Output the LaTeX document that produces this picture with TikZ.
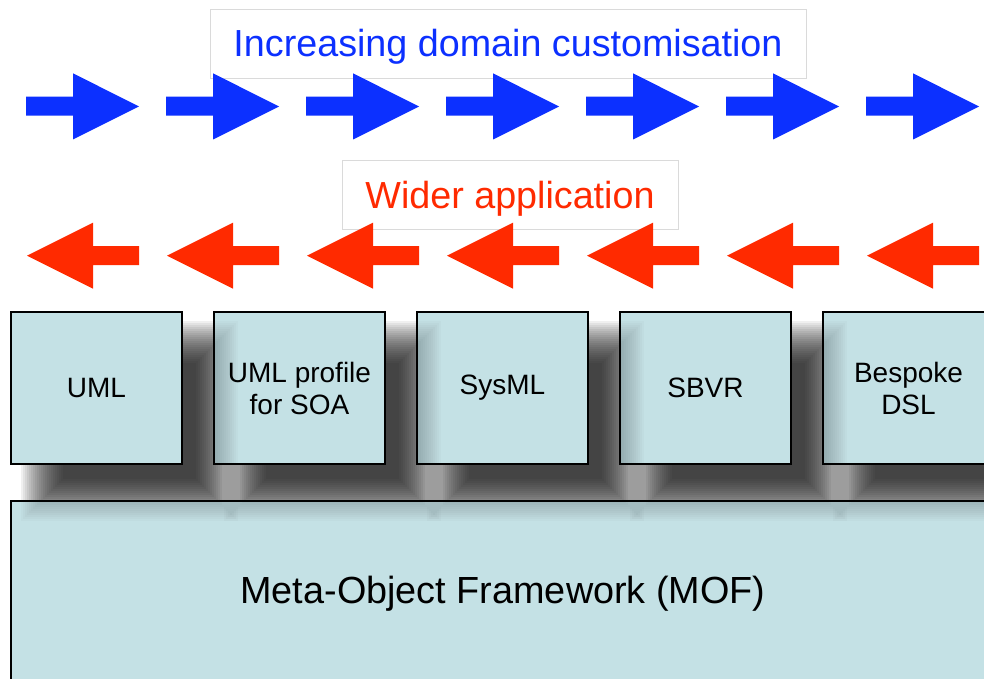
\documentclass[tikz,border=0pt]{standalone}
\usepackage{fontspec}
\setmainfont{Liberation Sans}
\definecolor{boxfill}{RGB}{196,225,229}
\definecolor{arrblue}{RGB}{12,48,255}
\definecolor{arrred}{RGB}{255,42,0}
\definecolor{lblframe}{RGB}{218,218,218}
\newcommand{\softshadow}[5]{%
  \foreach \k in {0,...,21}{%
    \fill[black, opacity=#5]
      ({#1+32-22+\k*2},{#2+31-22+\k*2}) rectangle ({#3+34+22-\k*2},{#4+35+22-\k*2});
  }}
\begin{document}
\begin{tikzpicture}[x=1pt,y=-1pt,
  lblbox/.style={draw=lblframe, line width=0.8pt, fill=white, inner sep=0pt,
    font=\fontsize{37.7}{45}\selectfont, text height=27pt, text depth=0pt},
  langbox/.style={draw=black, line width=1.8pt, fill=boxfill, inner sep=0pt,
    minimum width=171pt, minimum height=152pt, align=center,
    font=\fontsize{28}{32}\selectfont},
  bluearrow/.style={fill=arrblue},
  redarrow/.style={fill=arrred}]
\useasboundingbox (0,0) rectangle (984,679);
\clip (0,0) rectangle (984,679);

% labels
\node[lblbox, text=arrblue, minimum width=596pt, minimum height=69pt] (t1) at (508,43.5) {Increasing domain customisation};
\node[lblbox, text=arrred, minimum width=336pt, minimum height=69pt] (t2) at (510,194.5) {Wider application};

% arrows
\foreach \i in {0,...,6}{
  \pgfmathsetmacro\bx{26+140*\i}
  \fill[bluearrow] (\bx,96.7) -- ({\bx+47},96.7) -- ({\bx+47},73.3) -- ({\bx+113},106.5)
    -- ({\bx+47},139.5) -- ({\bx+47},115.7) -- (\bx,115.7) -- cycle;
  \pgfmathsetmacro\rx{27+140*\i}
  \fill[redarrow] (\rx,255.7) -- ({\rx+66},222.7) -- ({\rx+66},246) -- ({\rx+112},246)
    -- ({\rx+112},265) -- ({\rx+66},265) -- ({\rx+66},288.7) -- cycle;
}

% shadows
\softshadow{11}{312}{182}{464}{0.058}
\softshadow{214}{312}{385}{464}{0.058}
\softshadow{417}{312}{588}{464}{0.058}
\softshadow{620}{312}{791}{464}{0.058}
\softshadow{823}{312}{994}{464}{0.058}

% boxes
\node[langbox] (uml) at (96.5,388) {UML};
\node[langbox] (soa) at (299.5,388) {UML profile\\for SOA};
\node[langbox] (sysml) at (502.5,388) {SysML};
\node[langbox] (sbvr) at (705.5,388) {SBVR};
\node[langbox] (dsl) at (908.5,388) {Bespoke\\DSL};
\node[draw=black, line width=1.8pt, fill=boxfill, minimum width=1009pt, minimum height=219pt] (mof) at (515.5,610.5) {};

% shadow tints showing through
\begin{scope}
  \clip (soa.north west) rectangle (soa.south east);
  \softshadow{11}{312}{182}{464}{0.018}
\end{scope}
\begin{scope}
  \clip (sysml.north west) rectangle (sysml.south east);
  \softshadow{214}{312}{385}{464}{0.018}
\end{scope}
\begin{scope}
  \clip (sbvr.north west) rectangle (sbvr.south east);
  \softshadow{417}{312}{588}{464}{0.018}
\end{scope}
\begin{scope}
  \clip (dsl.north west) rectangle (dsl.south east);
  \softshadow{620}{312}{791}{464}{0.018}
\end{scope}
\begin{scope}
  \clip (mof.north west) rectangle (mof.south east);
  \softshadow{11}{312}{182}{464}{0.018}
  \softshadow{214}{312}{385}{464}{0.018}
  \softshadow{417}{312}{588}{464}{0.018}
  \softshadow{620}{312}{791}{464}{0.018}
  \softshadow{823}{312}{994}{464}{0.018}
\end{scope}

\node[inner sep=0pt, anchor=base, font=\fontsize{37.8}{45}\selectfont] (moftext) at (503,603) {Meta-Object Framework (MOF)};
\end{tikzpicture}
\end{document}
